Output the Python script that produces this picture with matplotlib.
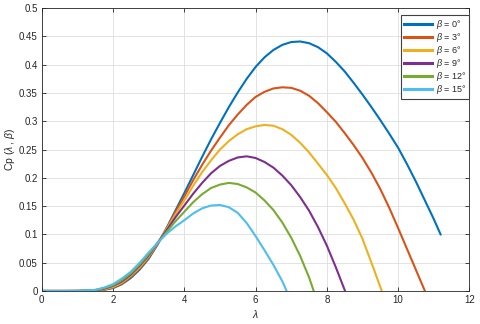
import numpy as np
import matplotlib
matplotlib.use('Agg')
import matplotlib.pyplot as plt

plt.rcParams['font.family'] = ['Liberation Sans', 'DejaVu Sans']
plt.rcParams['mathtext.fontset'] = 'custom'
plt.rcParams['mathtext.rm'] = 'Liberation Sans'
plt.rcParams['mathtext.it'] = 'Liberation Sans:italic'

# values, lambda step 0.25 from 0,
# the last value of each curve sits at its own end lambda
betas = [0, 3, 6, 9, 12, 15]
lam_step = 0.25

cp_b0 = [0, 0, 0, 0,
         0, 0.0002, 0.0006, 0.002,
         0.005, 0.012, 0.023, 0.038,
         0.057, 0.082, 0.111, 0.142,
         0.173, 0.205, 0.237, 0.268,
         0.297, 0.325, 0.351, 0.375,
         0.396, 0.413, 0.426, 0.435,
         0.440, 0.441, 0.438, 0.431,
         0.420, 0.405, 0.388, 0.368,
         0.347, 0.325, 0.302, 0.278,
         0.253, 0.224, 0.193, 0.160,
         0.127,
         0.100]
cp_b3 = [0, 0, 0, 0,
         0, 0.0003, 0.0008, 0.0025,
         0.006, 0.013, 0.025, 0.040,
         0.059, 0.083, 0.110, 0.139,
         0.167, 0.196, 0.223, 0.248,
         0.271, 0.293, 0.312, 0.329,
         0.343, 0.352, 0.358, 0.360,
         0.359, 0.354, 0.345, 0.332,
         0.316, 0.299, 0.279, 0.258,
         0.235, 0.209, 0.180, 0.147,
         0.111, 0.074, 0.037,
         0]
cp_b6 = [0, 0, 0, 0,
         0, 0.0004, 0.001, 0.003,
         0.007, 0.015, 0.027, 0.042,
         0.061, 0.084, 0.109, 0.135,
         0.160, 0.186, 0.210, 0.231,
         0.250, 0.265, 0.277, 0.286,
         0.291, 0.2935, 0.292, 0.286,
         0.276, 0.262, 0.245, 0.225,
         0.205, 0.182, 0.155, 0.126,
         0.092, 0.050,
         0]
cp_b9 = [0, 0, 0, 0,
         0.0001, 0.0005, 0.0013, 0.004,
         0.009, 0.017, 0.029, 0.045,
         0.063, 0.085, 0.107, 0.130,
         0.151, 0.172, 0.191, 0.208,
         0.221, 0.230, 0.236, 0.238,
         0.235, 0.228, 0.218, 0.204,
         0.187, 0.166, 0.142, 0.113,
         0.080, 0.042,
         0]
cp_b12 = [0, 0, 0, 0,
          0.0002, 0.0007, 0.0016, 0.005,
          0.010, 0.019, 0.031, 0.047,
          0.065, 0.085, 0.104, 0.123,
          0.140, 0.157, 0.171, 0.182,
          0.188, 0.191, 0.189, 0.183,
          0.174, 0.160, 0.143, 0.121,
          0.094, 0.062, 0.024,
          0]
cp_b15 = [0, 0, 0, 0,
          0.0003, 0.001, 0.002, 0.006,
          0.012, 0.022, 0.034, 0.050,
          0.068, 0.085, 0.101, 0.114,
          0.125, 0.137, 0.146, 0.151,
          0.152, 0.148, 0.138, 0.120,
          0.097, 0.072, 0.046, 0.017,
          0]
lam_end = [11.19, 10.75, 9.54, 8.51, 7.63, 6.87]

cps = [cp_b0, cp_b3, cp_b6, cp_b9, cp_b12, cp_b15]
colors = ['#0072BD', '#D95319', '#EDB120', '#7E2F8E', '#77AC30', '#4DBEEE']

txt = '#262626'

fig = plt.figure(figsize=(4.8, 3.24), dpi=100)
ax = fig.add_axes([0.087, 0.102, 0.891, 0.873])

for b, y, end, c in zip(betas, cps, lam_end, colors):
    x = [i * lam_step for i in range(len(y) - 1)] + [end]
    ax.plot(x, y, color=c, linewidth=1.5, label=r'$\beta$ = %d°' % b)

ax.set_xlim(0, 12)
ax.set_ylim(0, 0.5)
ax.set_xticks(np.arange(0, 13, 2))
ax.set_yticks(np.arange(0, 0.51, 0.05))
ax.set_yticklabels(['0', '0.05', '0.1', '0.15', '0.2', '0.25', '0.3', '0.35', '0.4', '0.45', '0.5'])
ax.tick_params(direction='in', top=True, right=True, length=3, width=0.6,
               labelsize=7, colors=txt, pad=3)
for s in ax.spines.values():
    s.set_color(txt)
    s.set_linewidth(0.6)
ax.grid(True, color='#dedede', linewidth=0.6)
ax.set_axisbelow(True)

ax.set_xlabel(r'$\lambda$', fontsize=7.5, color=txt, labelpad=2)
ax.set_ylabel(r'Cp $(\lambda\,,\,\beta)$', fontsize=7.5, color=txt)
ax.yaxis.set_label_coords(-0.058, 0.5)

leg = ax.legend(loc='upper right', bbox_to_anchor=(0.999, 0.975), borderaxespad=0,
                fontsize=6.5, handlelength=3.1, handletextpad=0.4,
                borderpad=0.3, labelspacing=0.0, fancybox=False,
                framealpha=1, edgecolor='#404040')
leg.get_frame().set_linewidth(0.8)
for t in leg.get_texts():
    t.set_color(txt)
for l in leg.get_lines():
    l.set_linewidth(2.2)

fig.savefig('out.png', dpi=100)
